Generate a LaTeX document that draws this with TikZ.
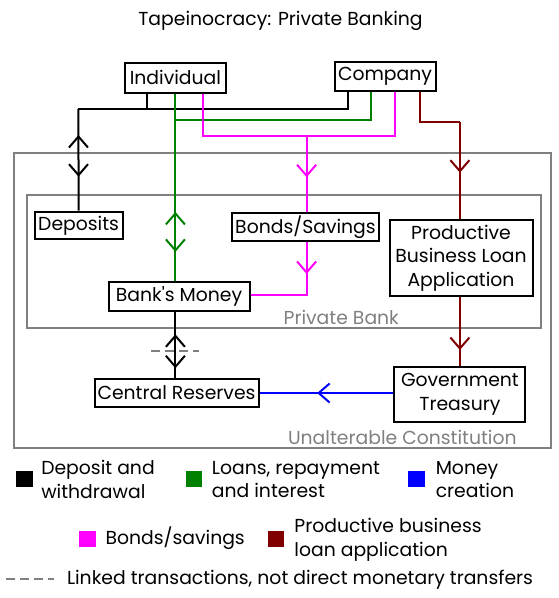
\documentclass[tikz,border=0pt]{standalone}
\usepackage{fontspec}
\setmainfont{Poppins}
\usepackage{tikz}
\usetikzlibrary{arrows.meta, calc, positioning, decorations.markings}

\definecolor{loangreen}{HTML}{008000}
\definecolor{bondpink}{HTML}{FF00FF}
\definecolor{moneyblue}{HTML}{0000FF}
\definecolor{appred}{HTML}{800000}
\definecolor{framegray}{HTML}{808080}

\tikzset{barb/.tip={Straight Barb[length=11pt, width=19pt]}}

\begin{document}
\begin{tikzpicture}[x=1pt, y=-1pt, line width=2pt, line join=miter,
  font=\fontsize{18.8}{23.4}\selectfont,
  box/.style={draw, inner sep=0pt, align=center},
  frame/.style={draw=framegray},
  keysq/.style={fill=#1, draw=none, minimum width=16.4pt, minimum height=16pt, inner sep=0pt},
  keytext/.style={align=left, inner sep=0pt},
  linked/.style={draw=framegray, dash pattern=on 9pt off 5pt},
  oneway/.style={postaction={decorate}, decoration={markings,
      mark=at position #1 with {\arrow{barb}}}},
  twoway/.style 2 args={postaction={decorate}, decoration={markings,
      mark=at position #1 with {\arrowreversed{barb}},
      mark=at position #2 with {\arrow{barb}}}}]
\useasboundingbox (0,0) rectangle (559,598);

\node (title) at (280.5,20.7) {Tapeinocracy: Private Banking};

% frames
\draw[frame] (13.5,152.7) rectangle (550.8,448.3);
\draw[frame] (27.1,195) rectangle (540.5,327.7);
\node[text=framegray] (pbank) at (341.3,317.3) {Private Bank};
\node[text=framegray] (const) at (402.3,437.3) {Unalterable Constitution};

% boxes
\node[box, minimum width=101pt, minimum height=30pt] (ind) at (175.4,77.5) {Individual};
\node[box, minimum width=101pt, minimum height=29.5pt] (comp) at (385,76.7) {Company};
\node[box, minimum width=88pt, minimum height=27.5pt] (dep) at (78.6,225.3) {Deposits};
\node[box, minimum width=147pt, minimum height=28pt] (bonds) at (305.5,227.3) {Bonds/Savings};
\node[box, minimum width=143pt, minimum height=76pt] (prod) at (461,258) {Productive\\Business Loan\\Application};
\node[box, minimum width=141pt, minimum height=29pt] (bank) at (179,296.5) {Bank\textquotesingle s Money};
\node[box, minimum width=164pt, minimum height=28.7pt] (cres) at (176.5,393) {Central Reserves};
\node[box, minimum width=131pt, minimum height=55pt] (gov) at (459.9,394.2) {Government\\Treasury};

% deposit and withdrawal
\coordinate (jdep) at (78.4,109);
\draw ([xshift=-28.5pt]ind.south) |- (jdep);
\draw ([xshift=-37pt]comp.south) |- (jdep);
\draw[twoway={26pt}{67.7pt}] (jdep) -- (dep.north);
\draw[twoway={22.3pt}{56.3pt}] (bank.south -| ind.south) -- (cres.north -| ind.south);
\draw[linked] ($(bank.south -| ind.south)+(-24,38.7)$) coordinate (lk1)
  -- ($(bank.south -| ind.south)+(24,38.7)$) coordinate (lk2);

% loans
\coordinate (jloan) at (175.8,120);
\draw[loangreen] ([xshift=-14.2pt]comp.south) |- (jloan);
\draw[loangreen, twoway={118.4pt}{158.4pt}] (ind.south) -- (ind.south |- bank.north);

% bonds
\coordinate (jbond) at (306.6,136);
\draw[bondpink] ([xshift=27.1pt]ind.south) |- (jbond);
\draw[bondpink] ([xshift=9.7pt]comp.south) |- (jbond);
\draw[bondpink, oneway={41.3pt}] (jbond) -- (jbond |- bonds.north);
\draw[bondpink, oneway={31.7pt}] (jbond |- bonds.south) |- ([yshift=1.2pt]bank.east);

% loan application
\coordinate (japp) at (459.9,122.3);
\draw[appred] ([xshift=35pt]comp.south) |- (japp);
\draw[appred, oneway={50.4pt}] (japp) -- (japp |- prod.north);
\draw[appred, oneway={53pt}] (japp |- prod.south) -- (japp |- gov.north);

% money creation
\draw[moneyblue, oneway={76.3pt}] (gov.west |- cres.east) -- (cres.east);

% legend
\node[keysq=black] (kdep) at (24.6,479.3) {};
\node[keytext, right=6.5pt of kdep] (tdep) {Deposit and\\withdrawal};
\node[keysq=loangreen] (kloan) at (193.7,479.3) {};
\node[keytext, right=8pt of kloan] (tloan) {Loans, repayment\\and interest};
\node[keysq=moneyblue] (kmoney) at (416.6,479.3) {};
\node[keytext, right=9pt of kmoney] (tmoney) {Money\\creation};
\node[keysq=bondpink] (kbond) at (87.3,538.5) {};
\node[keytext, right=8pt of kbond] (tbond) {Bonds/savings};
\node[keysq=appred] (kapp) at (275.7,538.5) {};
\node[keytext, right=8.5pt of kapp, yshift=-1.3pt] (tapp) {Productive business\\loan application};
\coordinate (ld1) at (6.4,579.3);
\coordinate (ld2) at (53.5,579.3);
\draw[linked] (ld1) -- (ld2);
\node[keytext, right=12.5pt of ld2] (tlink) {Linked transactions, not direct monetary transfers};
\end{tikzpicture}
\end{document}
